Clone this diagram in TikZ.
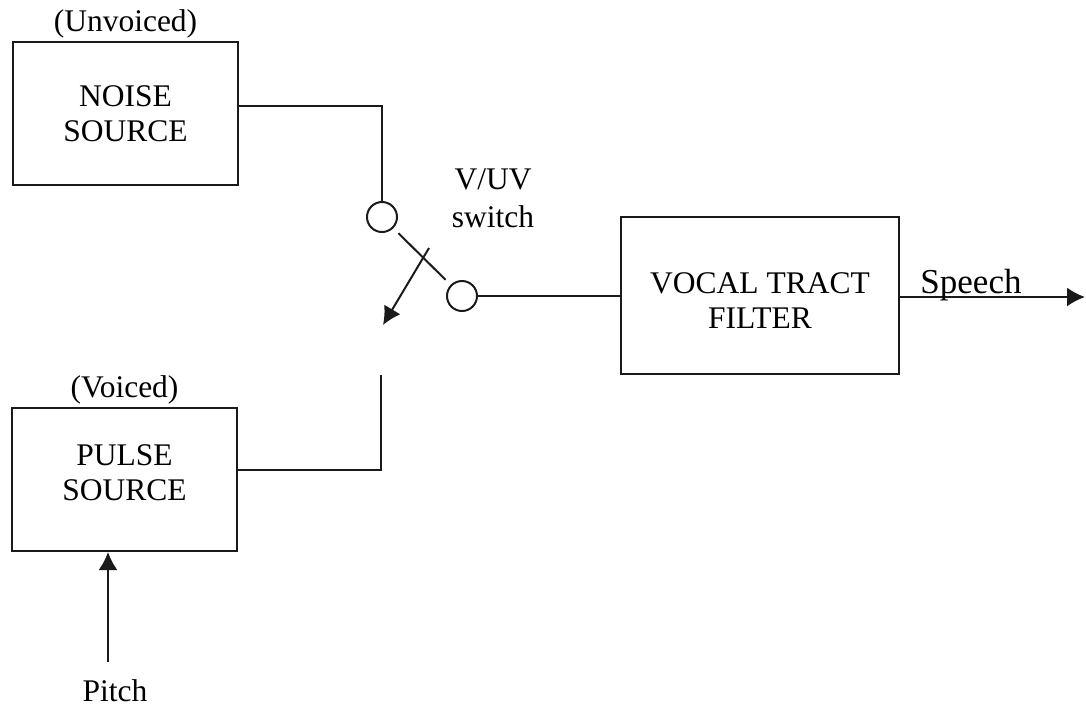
\documentclass[tikz,border=0pt]{standalone}
\usepackage{fontspec}
\setmainfont{Liberation Serif}
\usetikzlibrary{positioning, calc, arrows.meta}
\definecolor{Ink}{HTML}{1A1A1A}
\tikzset{
    srcbox/.style={rectangle, draw=Ink, line width=1pt, align=center, inner sep=0pt, font=\fontsize{15.75}{17.5}\selectfont},
    tag/.style={font=\fontsize{15.75}{17.5}\selectfont, inner sep=0.5pt},
    ring/.style={circle, draw=Ink, line width=1pt, minimum size=15pt, inner sep=0pt},
    wire/.style={draw=Ink, line width=1pt},
    arrow/.style={-{Latex[length=9pt, width=9.5pt]}, line width=1pt, color=Ink},
}
\begin{document}
\begin{tikzpicture}[x=0.5pt, y=-0.5pt]
    \useasboundingbox (0,0) rectangle (1086,708);

    % 1. Sorgenti
    \node[srcbox, minimum width=112.5pt, minimum height=71.5pt] (noise) at (125.5,113.5) {NOISE\\SOURCE};
    \node[tag, above=0.5pt of noise] (unv) {(Unvoiced)};

    \node[srcbox, minimum width=112.5pt, text height=46.15pt, text depth=25.35pt] (pulse) at (124.5,479.5) {PULSE\\SOURCE};
    \node[tag, above=0.5pt of pulse] (voi) {(Voiced)};

    % Pitch in ingresso
    \node[tag, anchor=base] (pitch) at (115,701) {Pitch};
    \coordinate (pitchin) at (108,662);
    \draw[arrow] (pitchin) -- (pitchin |- pulse.south);

    % 2. Interruttore V/UV
    \node[ring] (c1) at (382,217) {};
    \node[ring] (c2) at (462,296) {};
    \node[tag, align=center, font=\fontsize{15.75}{19}\selectfont] (swlbl) at (493,198.5) {V/UV\\switch};

    \draw[wire] ([yshift=3.75pt]noise.east) -| (c1.north);
    \coordinate (pend) at (381,375);
    \draw[wire] ([yshift=4.75pt]pulse.east) -| (pend);

    % lama e freccia di commutazione
    \draw[wire, shorten <=3.5pt, shorten >=3.5pt] (c1) -- (c2);
    \coordinate (armtop) at (429,248);
    \coordinate (armtip) at (383,325);
    \draw[arrow] (armtop) -- (armtip);

    % 3. Filtro del tratto vocale
    \node[srcbox, minimum width=139pt, text height=55.7pt, text depth=22.8pt] (vocal) at (760,295.5) {VOCAL TRACT\\FILTER};
    \draw[wire] (c2.east) -- (c2.east -| vocal.west);

    % Uscita
    \coordinate (out) at (1085,297);
    \draw[arrow] (vocal.east |- out) -- (out);
    \node[anchor=base, inner sep=0pt, font=\fontsize{17.5}{19}\selectfont] (speech) at (971,293) {Speech};
\end{tikzpicture}
\end{document}
